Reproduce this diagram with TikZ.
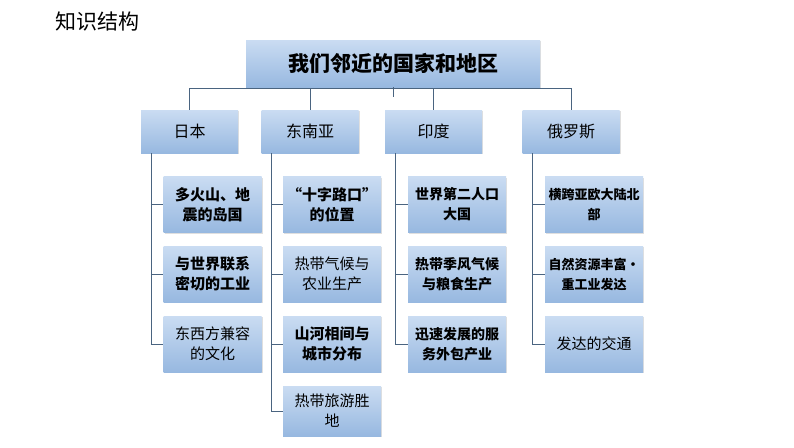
\documentclass[tikz,border=0pt]{standalone}
\usepackage{fontspec}
\setmainfont{Noto Sans CJK SC}
\usetikzlibrary{shadows}
\definecolor{boxtop}{HTML}{CADCF2}
\definecolor{boxbot}{HTML}{97B8E0}
\definecolor{linec}{HTML}{4A6480}
\tikzset{
  box/.style={top color=boxtop, bottom color=boxbot, draw=none, align=center,
    inner sep=0pt, drop shadow={shadow xshift=1pt, shadow yshift=-1pt, opacity=0.25}},
  link/.style={draw=linec, line width=0.6pt}
}
\begin{document}
\begin{tikzpicture}[x=1pt,y=-1pt]
		\useasboundingbox (0,0) rectangle (794,447);
		\node[anchor=west, font=\fontsize{21}{24}\selectfont] (title) at (52,22) {知识结构};
		\node[box, minimum width=294pt, minimum height=47pt, font=\fontsize{21}{25}\selectfont\bfseries] (root) at (393,63.5) {我们邻近的国家和地区};
		% level two
		\node[box, minimum width=97pt, minimum height=43pt, font=\fontsize{16}{19}\selectfont] (jp) at (189.5,131.5) {日本};
		\node[box, minimum width=97pt, minimum height=43pt, font=\fontsize{16}{19}\selectfont] (sea) at (310,131.5) {东南亚};
		\node[box, minimum width=97pt, minimum height=43pt, font=\fontsize{16}{19}\selectfont] (in) at (433.5,131.5) {印度};
		\node[box, minimum width=97pt, minimum height=43pt, font=\fontsize{16}{19}\selectfont] (ru) at (571,131.5) {俄罗斯};
		\coordinate (hub) at (393,97);
		\draw[link] (root.south) -- (hub);
		\draw[link] (jp.north) -- ++(0,-21.5) -| (ru.north);
		\draw[link] (sea.north) -- ++(0,-21.5);
		\draw[link] (in.north) -- ++(0,-21.5);
		% leaves
		\foreach \p/\x in {jp/212.5, sea/332, in/457, ru/594}{
		  \foreach \y/\t [count=\i] in {204.5/a, 274/b, 344/c}{
		    \coordinate (\p\t) at (\x,\y);
		  }
		}
		\tikzset{leaf/.style={box, minimum width=98pt, minimum height=56pt, text width=94pt, font=\fontsize{15}{20}\selectfont}}
		\node[leaf, font=\fontsize{15}{20}\selectfont\bfseries] (jp1) at (jpa) {多火山、地\\震的岛国};
		\node[leaf, font=\fontsize{15}{20}\selectfont\bfseries] (jp2) at (jpb) {与世界联系\\密切的工业};
		\node[leaf] (jp3) at (jpc) {东西方兼容\\的文化};
		\node[leaf, font=\fontsize{15}{20}\selectfont\bfseries] (sea1) at (seaa) {“十字路口”\\的位置};
		\node[leaf] (sea2) at (seab) {热带气候与\\农业生产};
		\node[leaf, font=\fontsize{15}{20}\selectfont\bfseries] (sea3) at (seac) {山河相间与\\城市分布};
		\node[leaf, minimum height=50pt] (sea4) at (332,411) {热带旅游胜\\地};
		\node[leaf, font=\fontsize{14}{20}\selectfont\bfseries] (in1) at (ina) {世界第二人口\\大国};
		\node[leaf, font=\fontsize{14}{20}\selectfont\bfseries] (in2) at (inb) {热带季风气候\\与粮食生产};
		\node[leaf, font=\fontsize{14}{20}\selectfont\bfseries] (in3) at (inc) {迅速发展的服\\务外包产业};
		\node[leaf, font=\fontsize{13}{20}\selectfont\bfseries] (ru1) at (rua) {横跨亚欧大陆北\\部};
		\node[leaf, font=\fontsize{13}{20}\selectfont\bfseries] (ru2) at (rub) {自然资源丰富·\\重工业发达};
		\node[leaf] (ru3) at (ruc) {发达的交通};
		% tree lines
		\foreach \p/\n in {jp/3, sea/4, in/3, ru/3}{
		  \draw[link] ([xshift=10pt]\p.south west) |- (\p\n.west);
		  \foreach \k in {1,...,\n}{
		    \draw[link] ([xshift=10pt]\p.south west |- \p\k.west) -- (\p\k.west);
		  }
		}
	\end{tikzpicture}
\end{document}
